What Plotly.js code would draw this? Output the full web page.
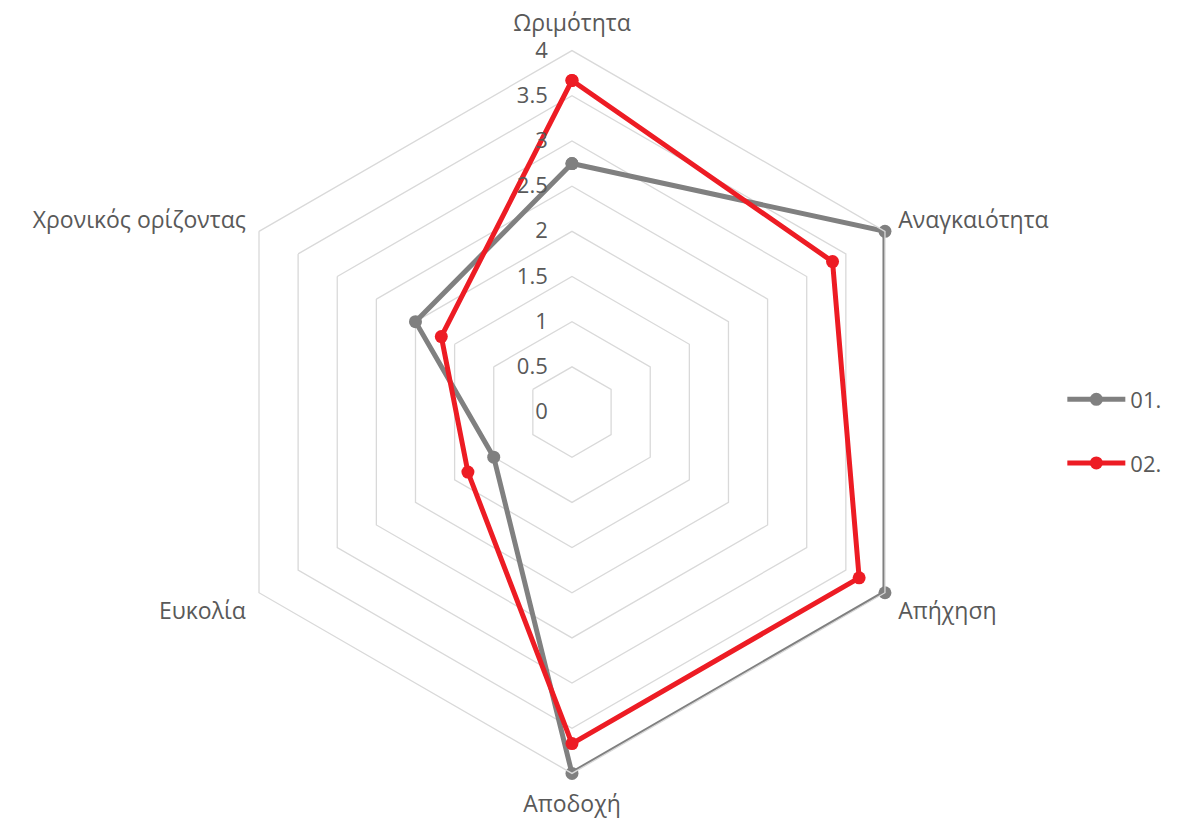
<!DOCTYPE html>
<html>
<head>
<meta charset="utf-8">
<script src="https://cdn.plot.ly/plotly-3.0.1.min.js"></script>
<style>html,body{margin:0;padding:0;background:#fff;}#chart{width:1183px;height:822px;}</style>
</head>
<body>
<div id="chart"></div>
<script>
const categories = ["Ωριμότητα", "Αναγκαιότητα", "Απήχηση", "Αποδοχή", "Ευκολία", "Χρονικός ορίζοντας"];
const series01 = [2.75, 4.0, 4.0, 4.0, 1.0, 2.0];
const series02 = [3.67, 3.33, 3.67, 3.67, 1.33, 1.67];
const seriesNames = ["01.", "02."];
const radialTicks = [0, 0.5, 1, 1.5, 2, 2.5, 3, 3.5, 4];

function closed(a){ return a.concat([a[0]]); }
// pad short labels so the centred tick text reads as right-aligned
function padLabel(v){ const s = String(v); return s.length === 1 ? '\u2007\u2008' + s : s; }

const traces = [
  {type:'scatterpolar', mode:'lines+markers', name:seriesNames[0], legendgroup:'a',
   r:closed(series01), theta:closed(categories),
   line:{color:'#808080', width:5}, marker:{color:'#808080', size:13}},
  {type:'scatterpolar', mode:'lines+markers', name:seriesNames[1], legendgroup:'b',
   r:closed(series02), theta:closed(categories),
   line:{color:'#ed1c24', width:5}, marker:{color:'#ed1c24', size:13}}
];

const layout = {
  width:1183, height:822,
  margin:{l:0,r:0,t:0,b:0},
  paper_bgcolor:'#fff',
  font:{family:'"Open Sans", "Segoe UI", sans-serif', color:'#595959', size:22},
  showlegend:true,
  legend:{x:0.898, y:0.475, xanchor:'left', yanchor:'middle', tracegroupgap:32,
          traceorder:'grouped', font:{size:22, color:'#595959'}, itemwidth:58, bgcolor:'rgba(0,0,0,0)'},
  polar:{
    domain:{x:[0.178, 0.789], y:[0.058, 0.9395]},
    bgcolor:'#fff',
    gridshape:'linear',
    radialaxis:{range:[0,4], tickvals:radialTicks, ticktext:radialTicks.map(padLabel),
      angle:90, tickangle:90, showline:false, ticks:'outside', ticklen:16, tickcolor:'rgba(0,0,0,0)',
      gridcolor:'#d9d9d9', gridwidth:1.3,
      tickfont:{size:22, color:'#595959'}, side:'counterclockwise'},
    angularaxis:{direction:'clockwise', rotation:90, showgrid:false, showline:true,
      linecolor:'#d9d9d9', linewidth:1.3, ticks:'outside', ticklen:10, tickcolor:'rgba(0,0,0,0)',
      tickfont:{size:23, color:'#595959'}}
  }
};

Plotly.newPlot('chart', traces, layout, {displayModeBar:false, staticPlot:true});
</script>
</body>
</html>
